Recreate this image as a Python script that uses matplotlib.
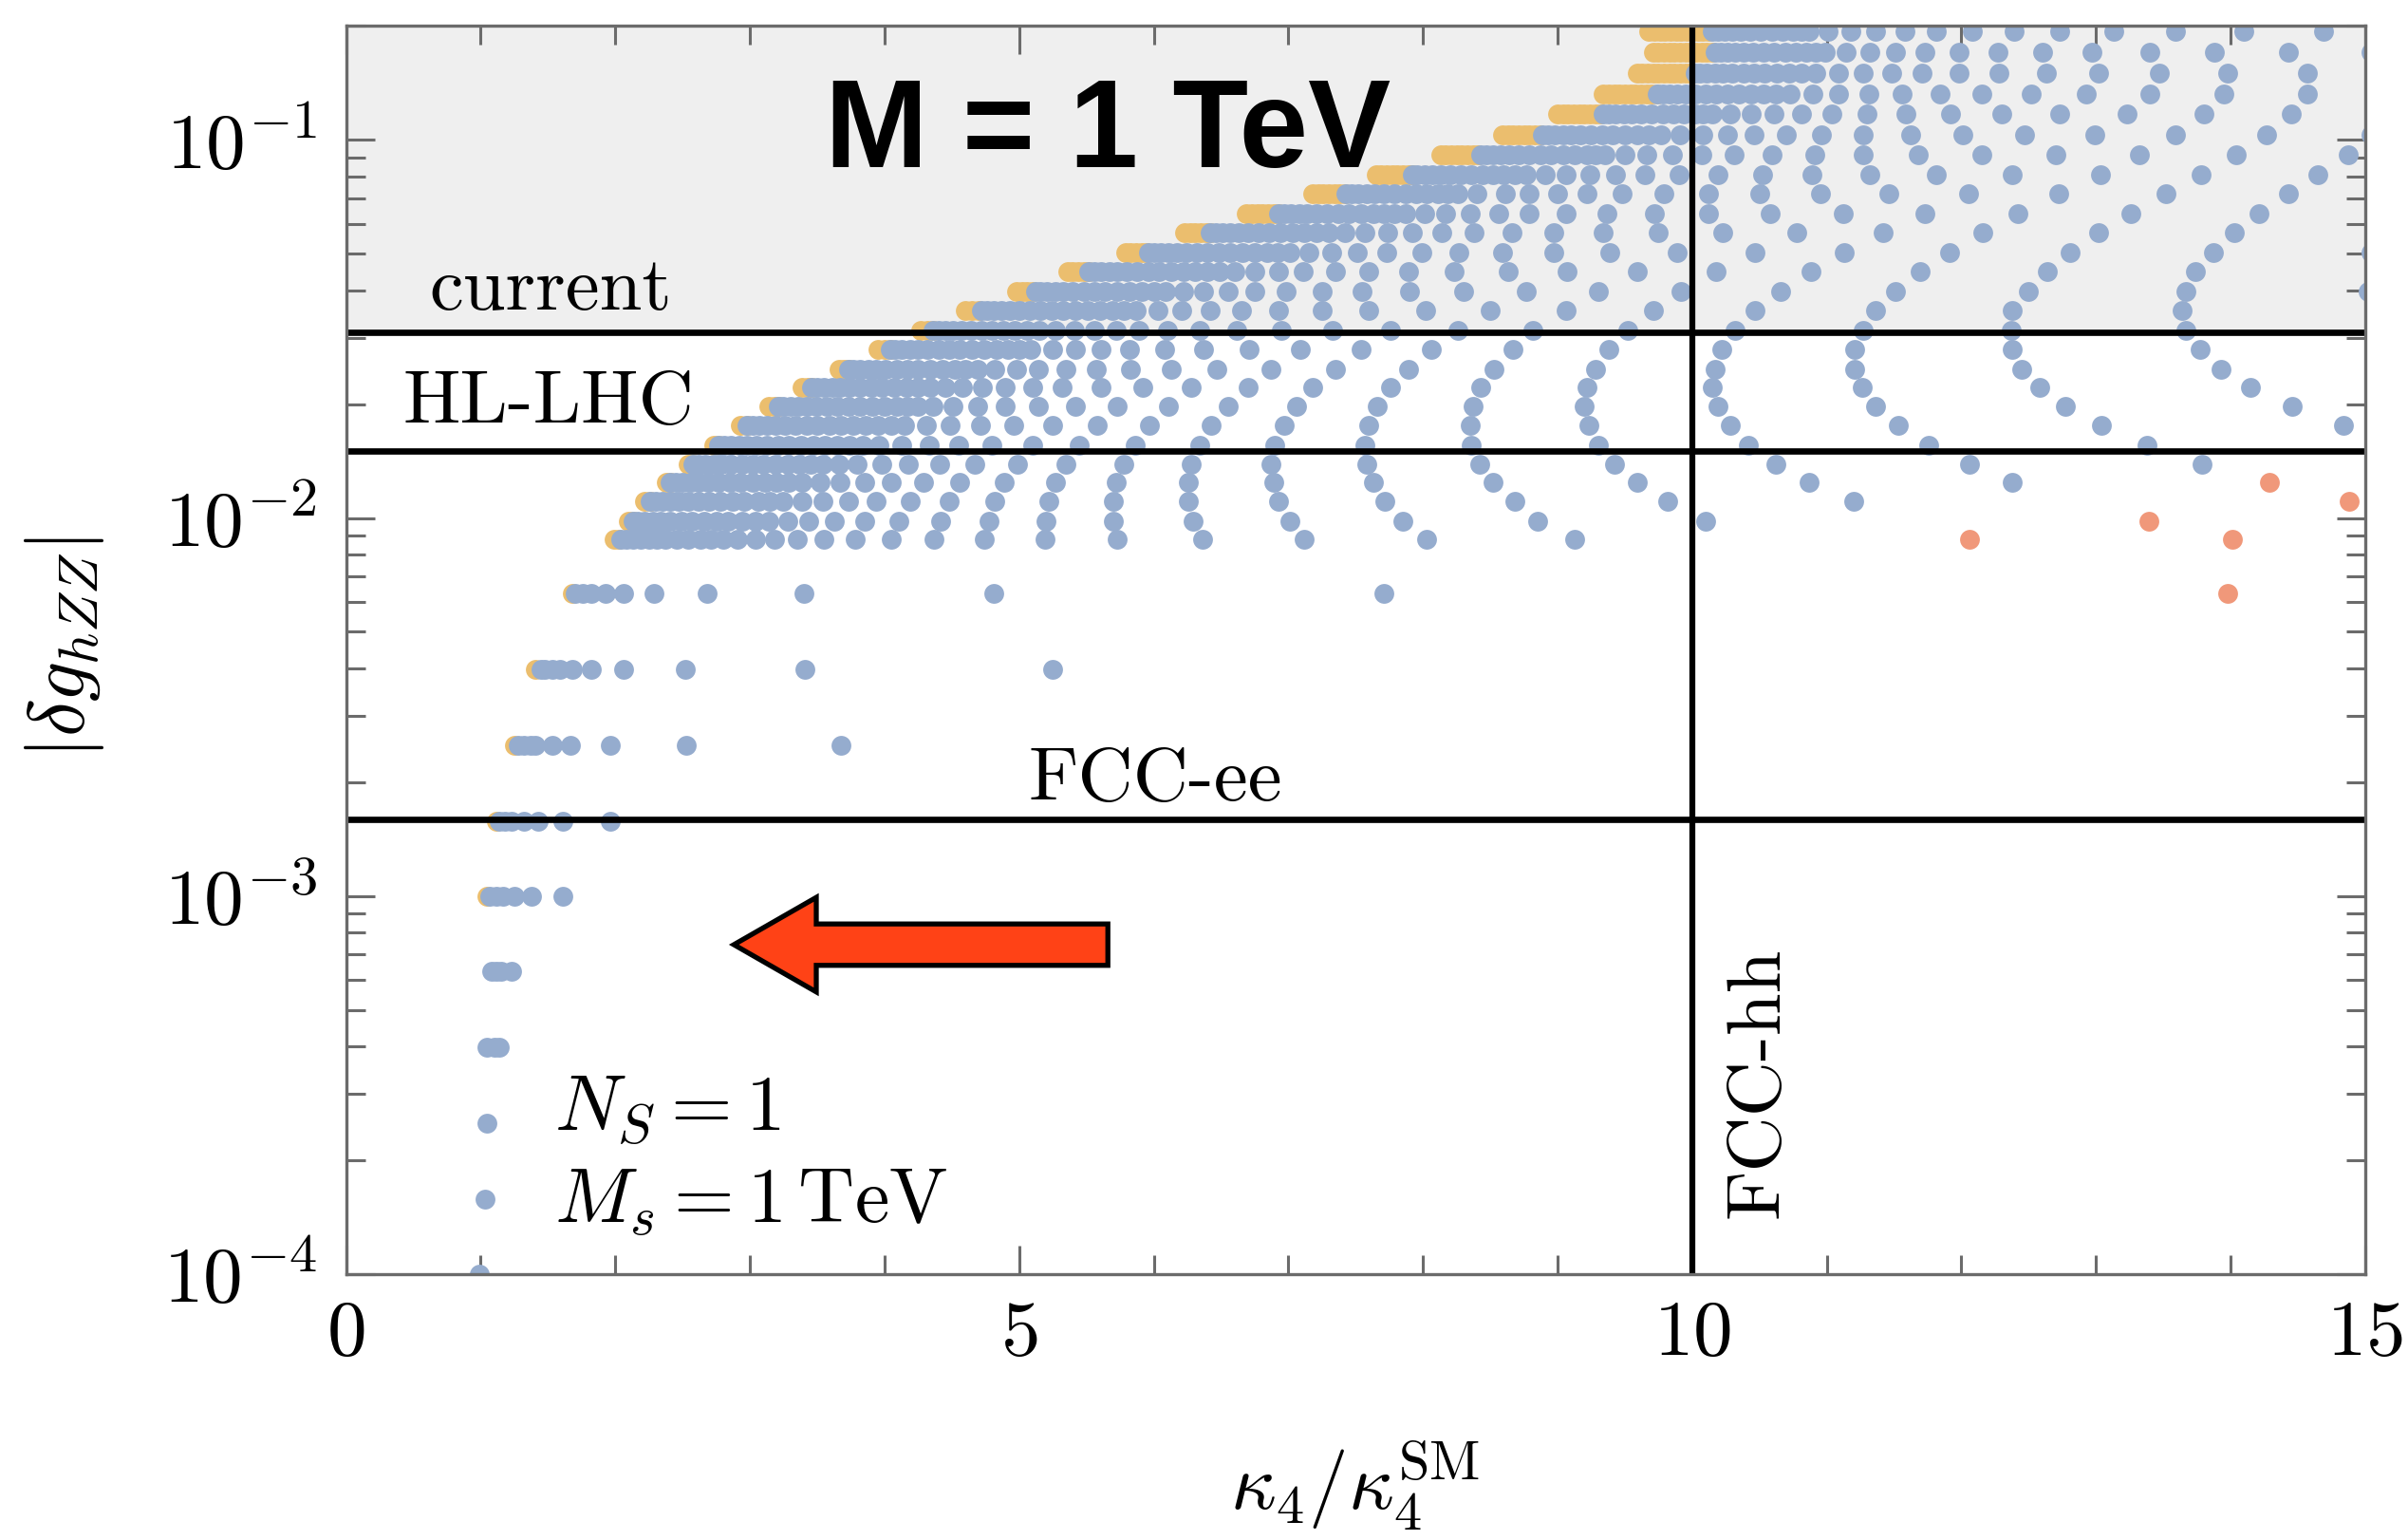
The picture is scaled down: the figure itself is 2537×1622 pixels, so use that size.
import numpy as np
import matplotlib.pyplot as plt
from matplotlib.patches import Polygon
from matplotlib.ticker import MultipleLocator, LogLocator, NullFormatter, FixedLocator

plt.rcParams['mathtext.fontset'] = 'cm'
plt.rcParams['font.family'] = 'serif'
plt.rcParams['font.serif'] = ['cmr10', 'DejaVu Serif']
plt.rcParams['axes.unicode_minus'] = False

# |delta g_hZZ| levels of the scan, one row of points per level (bottom to top)
row_y = [1.0e-4, 1.58e-4, 2.51e-4, 3.98e-4, 6.31e-4, 1.0e-3, 1.58e-3, 2.51e-3, 3.98e-3, 6.31e-3,
         0.00877, 0.00983, 0.01104, 0.0124, 0.0139, 0.0156, 0.01754, 0.0197, 0.0221,
         0.0248, 0.0279, 0.0314, 0.0353, 0.0397, 0.0448, 0.0504, 0.0567, 0.0638,
         0.0719, 0.0811, 0.0914, 0.1033, 0.1169, 0.1324, 0.1500, 0.1705, 0.1937]

# kappa_4 / kappa_4^SM of the N_S = 1 points on each row
blue_rows = [
    [0.99],
    [1.03],
    [1.05],
    [1.05, 1.10, 1.14],
    [1.08, 1.12, 1.15, 1.23],
    [1.07, 1.12, 1.17, 1.25, 1.38, 1.61],
    [1.14, 1.18, 1.23, 1.32, 1.43, 1.61, 1.96],
    [1.28, 1.32, 1.37, 1.41, 1.53, 1.67, 1.96, 2.53, 3.68],
    [1.45, 1.48, 1.53, 1.59, 1.68, 1.82, 2.06, 2.52, 3.41, 5.25],
    [1.70, 1.76, 1.82, 1.93, 2.06, 2.29, 2.68, 3.40, 4.81, 7.71],
    [2.04, 2.08, 2.13, 2.19, 2.25, 2.31, 2.37, 2.46, 2.54, 2.63, 2.71, 2.80, 2.91, 3.04, 3.18,
     3.35, 3.55, 3.78, 4.05, 4.37, 4.74, 5.19, 5.73, 6.36, 7.12, 8.03, 9.13],
    [2.13, 2.17, 2.22, 2.28, 2.34, 2.41, 2.49, 2.57, 2.66, 2.75, 2.84, 2.94, 3.04, 3.14, 3.28,
     3.44, 3.63, 3.85, 4.11, 4.42, 4.78, 5.20, 5.70, 6.29, 7.01, 7.85, 8.85, 10.10],
    [2.26, 2.30, 2.35, 2.41, 2.47, 2.54, 2.62, 2.70, 2.78, 2.87, 2.96, 3.06, 3.15, 3.25, 3.39,
     3.54, 3.73, 3.94, 4.19, 4.48, 4.82, 5.22, 5.70, 6.26, 6.93, 7.72, 8.68, 9.82, 11.20],
    [2.41, 2.45, 2.50, 2.56, 2.62, 2.69, 2.77, 2.85, 2.93, 3.02, 3.11, 3.20, 3.29, 3.39, 3.52,
     3.67, 3.85, 4.05, 4.29, 4.56, 4.89, 5.27, 5.72, 6.26, 6.89, 7.63, 8.52, 9.59, 10.87, 12.38],
    [2.58, 2.62, 2.67, 2.73, 2.79, 2.86, 2.94, 3.02, 3.10, 3.19, 3.28, 3.37, 3.45, 3.54, 3.66,
     3.80, 3.98, 4.18, 4.41, 4.67, 4.99, 5.35, 5.78, 6.28, 6.87, 7.58, 8.42, 9.42, 10.62, 12.06,
     13.79],
    [2.77, 2.81, 2.86, 2.92, 2.98, 3.05, 3.13, 3.21, 3.29, 3.38, 3.47, 3.56, 3.65, 3.74, 3.84,
     3.96, 4.13, 4.33, 4.55, 4.80, 5.10, 5.45, 5.86, 6.34, 6.90, 7.57, 8.36, 9.30, 10.42, 11.76,
     13.38],
    [2.98, 3.02, 3.07, 3.13, 3.19, 3.26, 3.34, 3.42, 3.50, 3.59, 3.68, 3.77, 3.86, 3.95, 4.05,
     4.15, 4.31, 4.49, 4.71, 4.96, 5.25, 5.58, 5.97, 6.43, 6.97, 7.60, 8.35, 9.23, 10.28, 11.53,
     13.04, 14.84],
    [3.21, 3.25, 3.30, 3.36, 3.42, 3.49, 3.57, 3.65, 3.73, 3.82, 3.91, 4.00, 4.09, 4.17, 4.25,
     4.36, 4.51, 4.69, 4.90, 5.14, 5.42, 5.73, 6.11, 6.55, 7.06, 7.66, 8.37, 9.20, 10.19, 11.36,
     12.77, 14.46],
    [3.46, 3.50, 3.55, 3.61, 3.67, 3.74, 3.82, 3.90, 3.98, 4.07, 4.16, 4.25, 4.34, 4.45, 4.58,
     4.73, 4.90, 5.10, 5.32, 5.61, 5.92, 6.28, 6.70, 7.18, 7.76, 8.43, 9.22, 10.15, 11.26, 12.58,
     14.15],
    [3.73, 3.77, 3.82, 3.88, 3.94, 4.01, 4.09, 4.17, 4.25, 4.34, 4.43, 4.52, 4.60, 4.69, 4.82,
     4.98, 5.14, 5.35, 5.57, 5.83, 6.13, 6.47, 6.87, 7.35, 7.89, 8.53, 9.28, 10.17, 11.21, 12.45,
     13.93],
    [4.04, 4.08, 4.13, 4.19, 4.25, 4.32, 4.40, 4.48, 4.56, 4.65, 4.74, 4.83, 4.92, 5.00, 5.09,
     5.25, 5.42, 5.61, 5.82, 6.08, 6.37, 6.71, 7.09, 7.54, 8.06, 8.67, 9.38, 10.22, 11.21, 12.38,
     13.77],
    [4.36, 4.40, 4.45, 4.51, 4.57, 4.64, 4.72, 4.80, 4.88, 4.97, 5.06, 5.15, 5.27, 5.41, 5.56,
     5.72, 5.89, 6.10, 6.34, 6.62, 6.95, 7.33, 7.76, 8.26, 8.82, 9.52, 10.32, 11.27, 12.37, 13.67],
    [4.72, 4.76, 4.81, 4.87, 4.93, 5.00, 5.08, 5.16, 5.24, 5.33, 5.42, 5.51, 5.60, 5.69, 5.78,
     5.87, 6.03, 6.21, 6.42, 6.65, 6.93, 7.25, 7.60, 8.02, 8.50, 9.06, 9.71, 10.47, 11.36, 12.38,
     13.64],
    [5.12, 5.16, 5.21, 5.27, 5.33, 5.40, 5.48, 5.56, 5.64, 5.73, 5.82, 5.91, 6.00, 6.09, 6.22,
     6.37, 6.55, 6.75, 6.98, 7.25, 7.55, 7.90, 8.30, 8.77, 9.30, 9.92, 10.66, 11.51, 12.50, 13.67,
     15.02],
    [5.52, 5.56, 5.61, 5.67, 5.73, 5.80, 5.88, 5.96, 6.04, 6.13, 6.22, 6.31, 6.40, 6.49, 6.60,
     6.75, 6.93, 7.11, 7.35, 7.60, 7.89, 8.23, 8.63, 9.07, 9.59, 10.18, 10.88, 11.69, 12.64, 13.74],
    [5.96, 6.00, 6.05, 6.11, 6.17, 6.24, 6.32, 6.40, 6.48, 6.57, 6.66, 6.75, 6.84, 6.92, 7.01,
     7.15, 7.32, 7.51, 7.73, 7.99, 8.27, 8.59, 8.97, 9.39, 9.89, 10.47, 11.13, 11.91, 12.81, 13.87,
     15.04],
    [6.42, 6.46, 6.51, 6.57, 6.63, 6.70, 6.78, 6.86, 6.94, 7.03, 7.12, 7.21, 7.30, 7.42, 7.57,
     7.74, 7.92, 8.14, 8.38, 8.66, 8.97, 9.34, 9.75, 10.23, 10.78, 11.42, 12.16, 13.02, 14.03],
    [6.93, 6.97, 7.02, 7.08, 7.14, 7.21, 7.29, 7.37, 7.45, 7.54, 7.63, 7.71, 7.79, 7.87, 8.01,
     8.17, 8.35, 8.56, 8.79, 9.06, 9.37, 9.72, 10.12, 10.58, 11.12, 11.73, 12.42, 13.26, 14.21],
    [7.43, 7.47, 7.52, 7.58, 7.64, 7.71, 7.79, 7.87, 7.95, 8.03, 8.11, 8.18, 8.26, 8.40, 8.61,
     8.79, 9.00, 9.22, 9.48, 9.79, 10.12, 10.50, 10.95, 11.46, 12.05, 12.72, 13.52, 14.43],
    [7.92, 7.96, 8.01, 8.07, 8.13, 8.20, 8.28, 8.36, 8.44, 8.52, 8.60, 8.68, 8.77, 8.91, 9.06,
     9.24, 9.43, 9.65, 9.90, 10.19, 10.52, 10.89, 11.32, 11.81, 12.38, 13.03, 13.78, 14.65],
    [8.43, 8.47, 8.52, 8.58, 8.64, 8.71, 8.79, 8.87, 8.95, 9.04, 9.13, 9.22, 9.28, 9.35, 9.50,
     9.66, 9.85, 10.07, 10.31, 10.59, 10.91, 11.27, 11.68, 12.15, 12.70, 13.32, 14.04, 14.87],
    [8.89, 8.93, 8.98, 9.04, 9.10, 9.17, 9.25, 9.33, 9.41, 9.50, 9.59, 9.68, 9.77, 9.91, 10.08,
     10.26, 10.46, 10.70, 10.96, 11.27, 11.62, 12.01, 12.47, 12.99, 13.59, 14.27, 15.04],
    [9.34, 9.38, 9.43, 9.49, 9.55, 9.62, 9.70, 9.78, 9.86, 9.94, 10.02, 10.08, 10.15, 10.28,
     10.44, 10.61, 10.81, 11.04, 11.30, 11.59, 11.92, 12.30, 12.73, 13.23, 13.80, 14.45],
    [9.74, 9.78, 9.83, 9.89, 9.95, 10.02, 10.10, 10.18, 10.26, 10.35, 10.44, 10.53, 10.62, 10.73,
     10.90, 11.09, 11.31, 11.56, 11.84, 12.15, 12.52, 12.93, 13.40, 13.95, 14.57],
    [10.02, 10.06, 10.11, 10.17, 10.23, 10.30, 10.38, 10.46, 10.54, 10.63, 10.72, 10.81, 10.92,
     11.09, 11.27, 11.48, 11.71, 11.98, 12.28, 12.63, 13.02, 13.47, 13.98, 14.57],
    [10.17, 10.21, 10.26, 10.32, 10.38, 10.45, 10.53, 10.61, 10.69, 10.77, 10.85, 10.92, 10.99,
     11.14, 11.32, 11.51, 11.73, 11.98, 12.27, 12.60, 12.97, 13.40, 13.88, 14.43, 15.04],
    [10.15, 10.19, 10.24, 10.30, 10.36, 10.43, 10.51, 10.59, 10.67, 10.75, 10.81, 10.87, 11.01,
     11.18, 11.36, 11.58, 11.81, 12.08, 12.39, 12.73, 13.13, 13.59, 14.10, 14.69],
]

# second set, sitting just left of / under the first one on each row
yellow_rows = [
    [], [], [], [], [],
    [1.05],
    [1.12],
    [1.25],
    [1.41],
    [1.68],
    [1.99, 2.03],
    [2.10, 2.13],
    [2.22, 2.26],
    [2.38, 2.41],
    [2.54, 2.58],
    [2.73, 2.77],
    [2.93, 2.98],
    [3.14, 3.18, 3.21],
    [3.39, 3.43, 3.46],
    [3.66, 3.70, 3.73],
    [3.95, 4.00, 4.04],
    [4.27, 4.32, 4.36],
    [4.60, 4.65, 4.70],
    [4.98, 5.02, 5.06, 5.10],
    [5.36, 5.40, 5.44, 5.48, 5.52],
    [5.79, 5.83, 5.87, 5.91, 5.95],
    [6.23, 6.27, 6.31, 6.35, 6.39, 6.42],
    [6.69, 6.73, 6.77, 6.81, 6.85, 6.89, 6.93],
    [7.18, 7.22, 7.26, 7.30, 7.34, 7.38, 7.42],
    [7.65, 7.69, 7.73, 7.77, 7.81, 7.85, 7.89, 7.92],
    [8.13, 8.17, 8.21, 8.25, 8.29, 8.33, 8.37, 8.41],
    [8.59, 8.63, 8.67, 8.71, 8.75, 8.79, 8.83, 8.87],
    [9.00, 9.04, 9.08, 9.12, 9.16, 9.20, 9.24, 9.28, 9.32],
    [9.34, 9.38, 9.42, 9.46, 9.50, 9.54, 9.58, 9.62, 9.66, 9.70, 9.74],
    [9.59, 9.63, 9.67, 9.71, 9.75, 9.79, 9.83, 9.87, 9.91, 9.95, 9.99],
    [9.71, 9.75, 9.79, 9.83, 9.87, 9.91, 9.95, 9.99, 10.03, 10.07, 10.11, 10.15],
    [9.68, 9.72, 9.76, 9.80, 9.84, 9.88, 9.92, 9.96, 10.00, 10.04, 10.08, 10.12],
]

# isolated points at large kappa_4
red_x = [12.06, 14.01, 13.39, 14.88, 14.29, 13.98]
red_y = [0.00877, 0.00877, 0.00983, 0.01104, 0.0124, 0.00631]

# experimental reaches
hline_y = [0.031, 0.015, 0.0016]
fcc_hh = 10

blue = '#95acce'
yellow = '#ebbe6e'
salmon = '#f0987a'
frame = '#6b6b6b'
dot = 225

bx = [x for row in blue_rows for x in row]
by = [y for y, row in zip(row_y, blue_rows) for _ in row]
yx = [x for row in yellow_rows for x in row]
yy = [y for y, row in zip(row_y, yellow_rows) for _ in row]

fig = plt.figure(figsize=(25.37, 16.22), dpi=100)
ax = fig.add_axes([0.14368, 0.17263, 0.83858, 0.81042])
ax.set_xlim(0, 15)
ax.set_ylim(1e-4, 0.2)
ax.set_yscale('log')

ax.axhspan(hline_y[0], 0.2, color='#efefef', lw=0, zorder=0)

ax.scatter(yx, yy, s=dot, c=yellow, linewidths=0, zorder=2)
ax.scatter(bx, by, s=dot, c=blue, linewidths=0, zorder=3)
ax.scatter(red_x, red_y, s=dot, c=salmon, linewidths=0, zorder=3)

for yv in hline_y:
    ax.axhline(yv, color='k', lw=4.8, zorder=4)
ax.axvline(fcc_hh, color='k', lw=4.5, zorder=4)

# labels of the bounds
ax.text(0.617, 0.0356, 'current', fontsize=58, family='cmr10', zorder=5)
ax.text(0.423, 0.01782, 'HL-LHC', fontsize=58, family='cmr10', zorder=5)
ax.text(5.07, 0.001788, 'FCC-ee', fontsize=58, family='cmr10', zorder=5)
ax.text(10.64, 1.41e-4, 'FCC-hh', fontsize=58, family='cmr10', rotation=90,
        rotation_mode='anchor', ha='left', va='baseline', zorder=5)

ax.text(5.657, 0.1033, 'M = 1 TeV', fontsize=94, family='Liberation Sans',
        weight='bold', ha='center', va='center', zorder=5)

ax.text(1.547, 2.41e-4, r'$N_S = 1$', fontsize=60, zorder=5)
ax.text(1.547, 1.364e-4, r'$M_s = 1\,\mathrm{TeV}$', fontsize=59, zorder=5)

# arrow pointing to smaller kappa_4
tip, back, tail = 0.1921, 0.2329, 0.3773
cy, rh, hh = 0.2640, 0.01658, 0.03785
arrow = Polygon([(tip, cy), (back, cy + hh), (back, cy + rh), (tail, cy + rh),
                 (tail, cy - rh), (back, cy - rh), (back, cy - hh)],
                closed=True, transform=ax.transAxes, fc='#ff4216', ec='k', lw=3.8,
                joinstyle='miter', zorder=6)
ax.add_patch(arrow)

# ticks and frame
ax.xaxis.set_major_locator(FixedLocator([0, 5, 10, 15]))
ax.xaxis.set_minor_locator(MultipleLocator(1))
ax.set_xticklabels([r'$0$', r'$5$', r'$10$', r'$15$'])
ax.yaxis.set_major_locator(FixedLocator([1e-4, 1e-3, 1e-2, 1e-1]))
ax.yaxis.set_minor_locator(LogLocator(base=10, subs=np.arange(2, 10), numticks=20))
ax.yaxis.set_minor_formatter(NullFormatter())
ax.set_yticklabels([r'$10^{-4}$', r'$10^{-3}$', r'$10^{-2}$', r'$10^{-1}$'])

ax.tick_params(which='both', direction='in', top=True, right=True, color=frame,
               width=2.2, labelsize=60)
ax.tick_params(which='major', length=21.6)
ax.tick_params(which='minor', length=14.4)
ax.tick_params(axis='y', pad=22)
ax.tick_params(axis='x', pad=20)
for sp in ax.spines.values():
    sp.set_color(frame)
    sp.set_linewidth(2.4)
    sp.set_zorder(7)

fig.text(1428 / 2537, 1 - 1565 / 1622, r'$\kappa_4/\kappa_4^{\mathrm{SM}}$', fontsize=60,
         ha='center', va='center')
fig.text(68 / 2537, 1 - 682 / 1622, r'$|\delta g_{hZZ}|$', fontsize=60, rotation=90,
         ha='center', va='center')

fig.savefig('out.png', dpi=100)
